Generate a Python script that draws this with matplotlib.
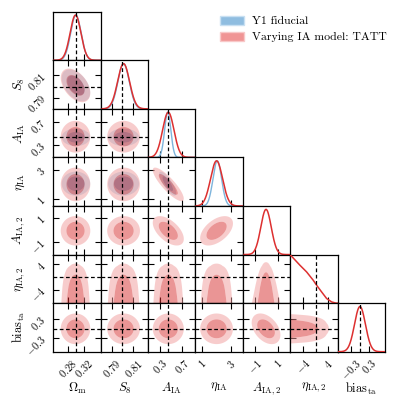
import numpy as np
import matplotlib
matplotlib.use("Agg")
import matplotlib.pyplot as plt
from matplotlib.patches import Patch

plt.rcParams['mathtext.fontset'] = 'cm'
plt.rcParams['font.family'] = 'serif'
plt.rcParams['font.serif'] = ['cmr10', 'DejaVu Serif']
plt.rcParams['axes.unicode_minus'] = False

# ---------------- data ----------------
param_labels = [r'$\Omega_{\rm m}$', r'$S_8$', r'$A_{\rm IA}$', r'$\eta_{\rm IA}$',
                r'$A_{\rm IA,2}$', r'$\eta_{\rm IA,2}$', r'${\rm bias}_{\rm ta}$']
ranges = [(0.2425, 0.361), (0.780, 0.8235), (0.094, 0.929), (0.525, 3.84),
          (-2.04, 2.03), (-8.26, 7.03), (-0.736, 0.825)]
ticks = [[0.28, 0.32], [0.79, 0.81], [0.3, 0.7], [1, 3], [-1, 1], [-4, 4], [-0.3, 0.3]]
tick_labels = [['0.28', '0.32'], ['0.79', '0.81'], ['0.3', '0.7'], ['1', '3'],
               ['-1', '1'], ['-4', '4'], ['-0.3', '0.3']]
truths = [0.3, 0.8, 0.44, None, None, 0.0, 0.0]

# Y1 fiducial (NLA) posterior summary: first four parameters only
y1_mean = [0.299, 0.801, 0.44, 2.05]
y1_sigma = [0.013, 0.0052, 0.055, 0.30]
y1_corr = {(0, 1): -0.45, (2, 3): -0.80}

# TATT posterior summary (eta_IA,2 given separately as a 1D profile)
tatt_mean = [0.298, 0.801, 0.45, 2.0, -0.05, None, 0.0]
tatt_sigma = [0.0135, 0.0055, 0.10, 0.42, 0.45, None, 0.18]
tatt_corr = {(0, 1): -0.45, (2, 3): -0.85, (2, 4): -0.55, (3, 4): 0.50, (4, 6): -0.40}

# eta_IA,2 marginal (fraction of panel height)
eta2_x = [-8.26, -8.13, -5.13, -2.97, -0.84, 0.26, 1.87, 3.48, 5.1, 6.5, 7.03]
eta2_pdf = [0.99, 0.986, 0.78, 0.642, 0.471, 0.368, 0.23, 0.095, 0.025, 0.0, 0.0]
# conditional width of A_IA,2 at the bottom/top of the eta_IA,2 range
a2_width_bottom, a2_width_top = 1.1, 0.45
# 2D contours are broader than the 1D peaks (smoothing of the 2D histograms)
contour_broadening = 1.12

legend_labels = ['Y1 fiducial', 'Varying IA model: TATT']

# ---------------- style ----------------
blue_fill = ['#91bddd', '#1973b9']
red_fill = ['#f19b9b', '#d72d2d']
fill_alpha = 0.5
blue_line = '#7db4dc'
red_line = '#dd3030'
YTOP = 1.075
ETA2 = 5
A2 = 4

n = len(param_labels)
fig = plt.figure(figsize=(3.97, 3.97), dpi=100)
gs = fig.add_gridspec(n, n, left=0.1343, right=0.9698, bottom=0.1141, top=0.9705,
                      hspace=0, wspace=0)


def gauss(x, m, s):
    return np.exp(-0.5 * ((x - m) / s) ** 2)


def corr_of(cd, a, b):
    return cd.get((min(a, b), max(a, b)), 0.0)


def density2d(mean, sigma, cd, jx, iy, X, Y):
    k = contour_broadening
    if iy == ETA2:
        p = np.interp(Y, eta2_x, eta2_pdf)
        w = np.ones_like(Y)
        if jx == A2:
            lo, hi = ranges[ETA2]
            w = a2_width_bottom + (a2_width_top - a2_width_bottom) * (Y - lo) / (hi - lo)
        s = sigma[jx] * w * k
        return p * np.exp(-0.5 * ((X - mean[jx]) / s) ** 2) / s
    if jx == ETA2:
        p = np.interp(X, eta2_x, eta2_pdf)
        return p * gauss(Y, mean[iy], sigma[iy] * k)
    r = corr_of(cd, jx, iy)
    dx = (X - mean[jx]) / (sigma[jx] * k)
    dy = (Y - mean[iy]) / (sigma[iy] * k)
    q = (dx ** 2 - 2 * r * dx * dy + dy ** 2) / (1 - r ** 2)
    return np.exp(-0.5 * q)


def mass_levels(Z):
    z = np.sort(Z.ravel())[::-1]
    c = np.cumsum(z)
    c /= c[-1]
    l68 = z[np.searchsorted(c, 0.68)]
    l95 = z[np.searchsorted(c, 0.95)]
    return [l95, l68, Z.max() * 1.01 + 1e-300]


for i in range(n):
    for j in range(n):
        if j > i:
            continue
        ax = fig.add_subplot(gs[i, j])
        xr = ranges[j]
        ax.set_xlim(*xr)
        ax.set_xticks(ticks[j])
        if i == j:
            xs = np.linspace(xr[0], xr[1], 400)
            if j == ETA2:
                ax.plot(eta2_x, [v * YTOP for v in eta2_pdf], color=red_line, lw=1.1, zorder=3)
            else:
                if j < len(y1_mean):
                    ax.plot(xs, gauss(xs, y1_mean[j], y1_sigma[j]), color=blue_line,
                            lw=1.0, zorder=2)
                ax.plot(xs, gauss(xs, tatt_mean[j], tatt_sigma[j]), color=red_line,
                        lw=1.1, zorder=3)
            ax.set_ylim(0, YTOP)
            if truths[j] is not None:
                ax.axvline(truths[j], color='k', ls='--', lw=0.9, dashes=(3, 2), zorder=5)
            ax.tick_params(direction='in', length=4, width=0.8, left=False, right=False,
                           top=False, bottom=True, labelleft=False)
            ax.set_yticks([])
        else:
            yr = ranges[i]
            ax.set_ylim(*yr)
            ax.set_yticks(ticks[i])
            X, Y = np.meshgrid(np.linspace(xr[0], xr[1], 260), np.linspace(yr[0], yr[1], 260))
            if i < len(y1_mean) and j < len(y1_mean):
                Zb = density2d(y1_mean, y1_sigma, y1_corr, j, i, X, Y)
                ax.contourf(X, Y, Zb, levels=mass_levels(Zb), colors=blue_fill,
                            alpha=fill_alpha, zorder=1, antialiased=True)
            Zr = density2d(tatt_mean, tatt_sigma, tatt_corr, j, i, X, Y)
            ax.contourf(X, Y, Zr, levels=mass_levels(Zr), colors=red_fill,
                        alpha=fill_alpha, zorder=2, antialiased=True)
            if truths[j] is not None:
                ax.axvline(truths[j], color='k', ls='--', lw=0.9, dashes=(3, 2), zorder=5)
            if truths[i] is not None:
                ax.axhline(truths[i], color='k', ls='--', lw=0.9, dashes=(3, 2), zorder=5)
            ax.tick_params(direction='in', length=4, width=0.8, left=True, right=True,
                           top=True, bottom=True)
        for sp in ax.spines.values():
            sp.set_linewidth(0.9)
        if i == n - 1:
            ax.set_xticklabels(['$' + t + '$' for t in tick_labels[j]], rotation=45,
                               fontsize=7.5)
            ax.tick_params(axis='x', pad=4)
            ax.set_xlabel(param_labels[j], fontsize=9)
            ax.xaxis.set_label_coords(0.5, -0.6)
        else:
            ax.set_xticklabels([])
        if j == 0 and i > 0:
            ax.set_yticklabels(['$' + t + '$' for t in tick_labels[i]], rotation=45,
                               fontsize=7.5)
            ax.tick_params(axis='y', pad=4)
            ax.set_ylabel(param_labels[i], fontsize=9)
            ax.yaxis.set_label_coords(-0.56, 0.5)
        elif i != j:
            ax.set_yticklabels([])

handles = [Patch(facecolor='#8fbde0', edgecolor='#c8e0f2', lw=1.0),
           Patch(facecolor='#f09595', edgecolor='#f8c8c8', lw=1.0)]
fig.legend(handles, legend_labels, loc='upper left', bbox_to_anchor=(0.542, 0.972),
           frameon=False, fontsize=8.5, handlelength=2.0, handleheight=0.8,
           labelspacing=0.45, handletextpad=0.7, borderaxespad=0)

fig.savefig('out.png', dpi=100)
